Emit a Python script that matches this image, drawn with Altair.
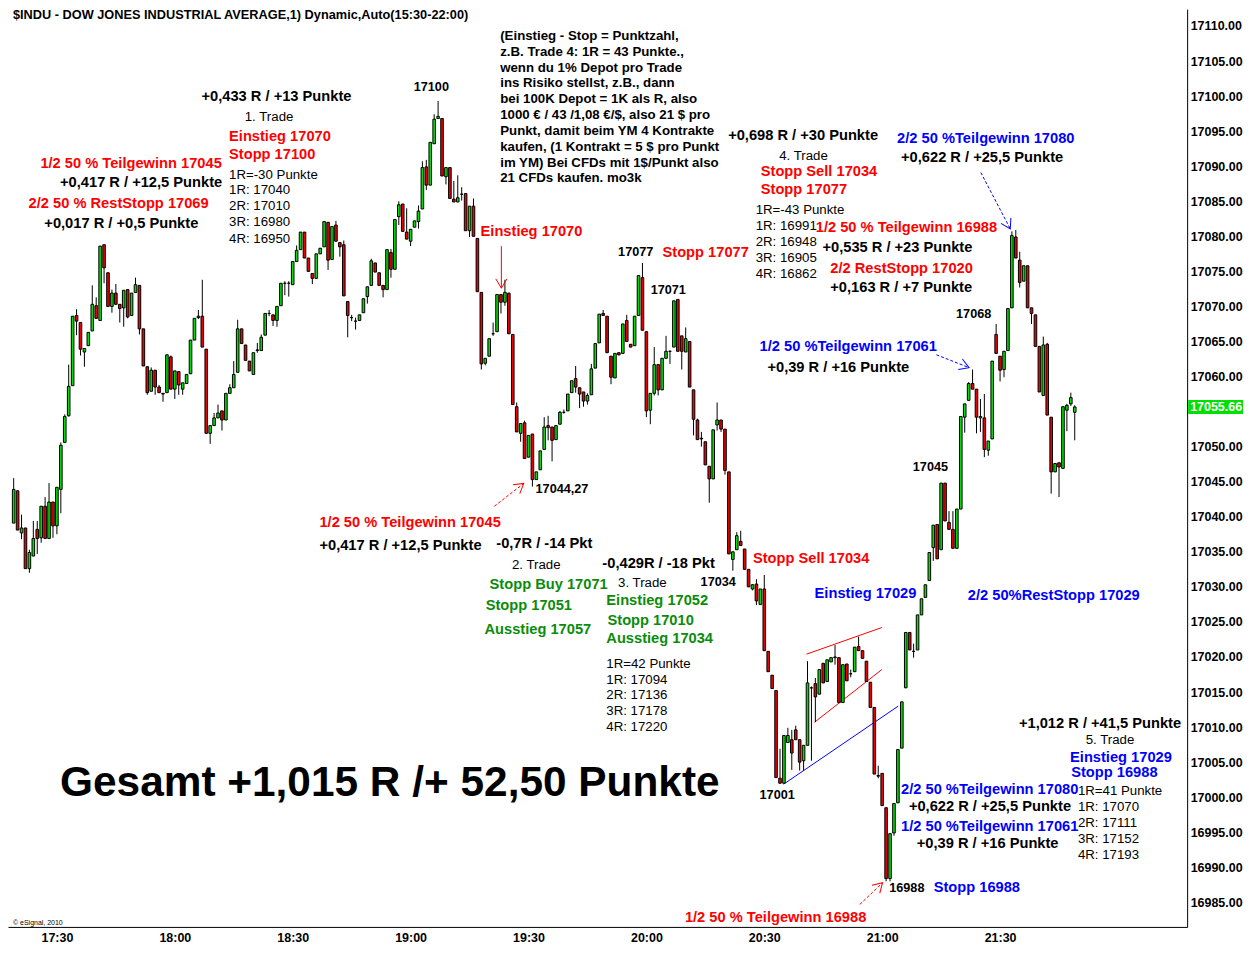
import altair as alt
import pandas as pd

FONT = "Liberation Sans"
RED = "#FF0000"
BLUE = "#0000FF"
GREEN = "#0A8C0A"
BLACK = "#000000"

# ---- 1-minute bars, first bar 17:19 ----
opens = [17039.1, 17043.7, 17037.7, 17038.4, 17032.6, 17034.4, 17038.2, 17037.0, 17041.5, 17036.9,
         17042.1, 17038.7, 17043.9, 17050.6, 17054.4, 17058.7, 17068.7, 17067.7, 17063.5, 17064.4,
         17066.5, 17070.1, 17068.0, 17078.8, 17074.8, 17070.0, 17071.9, 17070.3, 17069.8, 17072.4,
         17068.7, 17072.0, 17073.0, 17066.8, 17061.4, 17057.9, 17060.9, 17058.5, 17057.6, 17057.7,
         17062.8, 17058.2, 17060.7, 17058.2, 17059.0, 17060.4, 17065.2, 17068.4, 17068.6, 17063.9,
         17051.9, 17053.0, 17054.1, 17055.1, 17053.8, 17057.6, 17058.4, 17060.6, 17066.8, 17064.5,
         17062.2, 17060.3, 17063.7, 17063.7, 17065.9, 17069.0, 17068.8, 17068.0, 17070.1, 17073.3,
         17073.3, 17073.1, 17076.4, 17078.1, 17080.6, 17076.9, 17074.7, 17074.0, 17077.5, 17078.5,
         17082.0, 17076.7, 17081.6, 17079.1, 17078.8, 17070.7, 17068.4, 17067.9, 17068.0, 17069.1,
         17071.4, 17073.0, 17076.2, 17074.8, 17073.0, 17072.4, 17077.7, 17075.3, 17082.8, 17084.6,
         17080.6, 17079.3, 17081.3, 17082.1, 17083.9, 17089.9, 17087.3, 17093.2, 17096.8, 17096.8,
         17088.5, 17089.8, 17085.3, 17084.9, 17086.0, 17086.1, 17080.8, 17084.3, 17079.7, 17072.0,
         17061.9, 17062.9, 17066.1, 17066.4, 17071.7, 17070.6, 17071.9, 17066.0, 17055.7, 17051.9,
         17053.4, 17048.5, 17051.8, 17045.3, 17046.7, 17049.6, 17053.0, 17052.8, 17051.0, 17053.2,
         17054.9, 17055.1, 17057.7, 17059.7, 17058.4, 17057.8, 17056.5, 17057.4, 17061.2, 17064.8,
         17069.0, 17068.6, 17062.9, 17059.8, 17063.4, 17063.3, 17068.0, 17064.6, 17064.4, 17068.7,
         17074.1, 17066.4, 17055.2, 17057.6, 17061.7, 17058.1, 17062.6, 17063.6, 17064.2, 17071.0,
         17065.8, 17063.5, 17065.0, 17058.1, 17053.8, 17051.1, 17050.7, 17047.2, 17045.4, 17053.1,
         17053.8, 17052.5, 17046.4, 17033.9, 17035.3, 17036.5, 17035.4, 17032.5, 17029.7, 17030.4,
         17027.5, 17029.7, 17020.8, 17017.4, 17015.2, 17002.7, 17002.0, 17007.8, 17008.2, 17009.6,
         17008.2, 17005.2, 17007.4, 17015.6, 17016.2, 17014.7, 17019.1, 17016.5, 17019.3, 17019.9,
         17019.9, 17013.5, 17019.0, 17017.6, 17017.9, 17021.5, 17020.9, 17019.4, 17016.4, 17012.8,
         17003.1, 17003.4, 16998.5, 16988.4, 16994.9, 16999.2, 17007.0, 17015.6, 17023.5, 17020.8,
         17021.0, 17026.0, 17028.5, 17030.9, 17035.6, 17038.9, 17035.3, 17044.8, 17039.2, 17038.2,
         17035.5, 17041.1, 17054.2, 17056.6, 17059.0, 17058.2, 17054.1, 17054.1, 17049.5, 17051.1,
         17066.0, 17062.9, 17061.0, 17063.7, 17069.8, 17079.9, 17076.6, 17073.6, 17075.8, 17069.8,
         17068.8, 17064.3, 17057.3, 17064.6, 17054.2, 17046.4, 17047.7, 17046.9, 17055.2, 17056.1,
         17054.9]
highs = [17045.5, 17043.7, 17040.3, 17038.4, 17035.3, 17039.4, 17039.4, 17041.5, 17042.8, 17044.8,
         17042.1, 17044.2, 17050.6, 17054.6, 17061.7, 17068.6, 17069.6, 17067.7, 17064.0, 17066.3,
         17073.0, 17071.3, 17078.6, 17078.8, 17074.8, 17072.4, 17073.2, 17070.3, 17072.3, 17072.4,
         17071.9, 17074.1, 17073.0, 17066.8, 17061.4, 17061.3, 17060.9, 17058.8, 17057.6, 17063.1,
         17063.0, 17060.8, 17060.7, 17059.1, 17060.3, 17065.2, 17068.3, 17069.5, 17073.8, 17063.9,
         17053.0, 17054.8, 17056.0, 17055.1, 17057.6, 17058.9, 17062.2, 17068.1, 17066.8, 17064.5,
         17062.2, 17063.4, 17064.8, 17066.0, 17069.0, 17069.5, 17068.8, 17070.0, 17073.3, 17073.6,
         17073.6, 17076.4, 17078.7, 17080.6, 17080.6, 17076.9, 17074.7, 17077.5, 17078.3, 17082.1,
         17082.0, 17081.4, 17082.2, 17079.1, 17079.4, 17070.7, 17068.8, 17068.4, 17068.8, 17071.1,
         17072.8, 17076.8, 17076.2, 17074.8, 17073.0, 17078.1, 17078.2, 17082.4, 17085.0, 17084.6,
         17084.0, 17081.0, 17082.2, 17084.4, 17090.7, 17090.9, 17093.4, 17097.4, 17099.3, 17096.8,
         17089.8, 17089.8, 17087.9, 17088.7, 17087.0, 17086.1, 17084.3, 17085.4, 17079.7, 17072.0,
         17062.6, 17065.4, 17067.7, 17071.7, 17071.7, 17073.8, 17071.9, 17066.0, 17056.3, 17053.3,
         17053.7, 17051.6, 17051.8, 17046.4, 17049.4, 17054.2, 17054.4, 17052.8, 17053.0, 17055.1,
         17055.3, 17057.5, 17059.4, 17061.5, 17058.4, 17057.8, 17057.6, 17061.8, 17064.7, 17068.9,
         17069.5, 17068.6, 17062.9, 17063.3, 17063.4, 17067.5, 17068.8, 17064.6, 17068.6, 17074.4,
         17076.2, 17066.4, 17057.6, 17064.2, 17061.7, 17062.6, 17065.8, 17063.7, 17070.8, 17071.0,
         17065.8, 17067.0, 17065.0, 17058.1, 17054.0, 17052.1, 17050.7, 17047.2, 17052.4, 17056.3,
         17053.8, 17052.5, 17046.4, 17035.0, 17037.8, 17038.0, 17035.4, 17032.5, 17030.4, 17031.1,
         17029.7, 17031.7, 17020.8, 17017.4, 17015.2, 17006.9, 17008.8, 17009.9, 17009.6, 17010.2,
         17008.2, 17007.4, 17019.4, 17015.8, 17017.0, 17018.2, 17019.1, 17019.6, 17019.9, 17021.7,
         17019.9, 17018.9, 17019.0, 17018.2, 17021.4, 17022.9, 17020.9, 17019.4, 17016.4, 17012.8,
         17004.5, 17003.4, 16998.5, 16994.8, 16999.1, 17006.8, 17013.6, 17023.5, 17023.5, 17021.9,
         17026.0, 17028.3, 17030.3, 17034.9, 17038.8, 17038.9, 17044.8, 17044.8, 17040.8, 17040.8,
         17041.1, 17054.3, 17056.1, 17059.2, 17061.0, 17058.2, 17056.8, 17057.5, 17050.8, 17062.2,
         17067.5, 17062.9, 17063.6, 17069.7, 17080.7, 17080.9, 17077.8, 17075.8, 17075.8, 17069.8,
         17068.8, 17064.3, 17065.7, 17064.8, 17054.2, 17047.6, 17047.7, 17055.7, 17056.1, 17057.7,
         17055.9]
lows = [17039.1, 17038.1, 17036.8, 17032.6, 17032.0, 17034.4, 17034.7, 17036.3, 17036.9, 17036.9,
        17037.0, 17037.5, 17040.5, 17050.6, 17054.3, 17058.7, 17065.9, 17063.0, 17061.4, 17064.4,
        17066.5, 17068.3, 17068.0, 17073.3, 17070.0, 17069.1, 17070.3, 17067.7, 17067.1, 17068.3,
        17068.7, 17072.0, 17066.0, 17061.5, 17057.4, 17057.9, 17057.4, 17057.7, 17056.4, 17057.7,
        17058.2, 17056.8, 17057.4, 17057.4, 17059.0, 17060.4, 17065.2, 17068.2, 17064.2, 17051.9,
        17050.4, 17053.0, 17054.1, 17052.3, 17053.8, 17057.6, 17058.4, 17060.6, 17064.7, 17062.3,
        17060.8, 17060.3, 17063.4, 17063.7, 17065.9, 17068.6, 17067.2, 17067.1, 17070.1, 17071.6,
        17071.4, 17073.1, 17076.4, 17078.1, 17076.9, 17075.0, 17073.2, 17074.0, 17077.5, 17078.5,
        17075.2, 17076.7, 17079.3, 17077.1, 17071.5, 17065.6, 17067.9, 17066.7, 17068.0, 17069.1,
        17070.4, 17073.0, 17074.9, 17073.0, 17071.3, 17072.4, 17074.1, 17075.3, 17081.6, 17080.7,
        17079.6, 17078.6, 17081.3, 17081.1, 17083.9, 17086.6, 17087.3, 17093.2, 17096.8, 17088.6,
        17087.4, 17085.4, 17084.9, 17084.9, 17085.1, 17080.8, 17079.9, 17080.0, 17072.1, 17061.0,
        17061.6, 17062.9, 17065.8, 17066.4, 17069.0, 17070.1, 17066.1, 17056.0, 17052.1, 17050.7,
        17048.3, 17048.5, 17044.3, 17045.3, 17046.7, 17049.6, 17050.9, 17047.9, 17051.0, 17053.2,
        17054.7, 17055.1, 17057.7, 17057.7, 17055.5, 17055.7, 17056.0, 17057.4, 17061.2, 17064.8,
        17068.7, 17063.4, 17058.9, 17059.8, 17063.0, 17063.3, 17065.0, 17064.2, 17064.4, 17068.7,
        17066.6, 17054.2, 17053.2, 17057.3, 17057.3, 17058.1, 17062.6, 17061.8, 17064.2, 17063.6,
        17061.0, 17063.5, 17058.5, 17051.6, 17051.0, 17050.0, 17047.4, 17042.0, 17045.4, 17052.3,
        17052.1, 17046.0, 17034.7, 17032.3, 17035.3, 17035.9, 17032.5, 17030.0, 17029.5, 17027.4,
        17027.4, 17020.9, 17017.9, 17015.5, 17002.8, 17001.9, 17001.9, 17007.8, 17003.9, 17008.2,
        17003.8, 17003.8, 17007.4, 17005.2, 17010.7, 17014.7, 17016.3, 17016.5, 17019.3, 17018.9,
        17013.5, 17013.5, 17016.6, 17017.1, 17017.9, 17020.9, 17019.8, 17016.5, 17012.8, 17003.3,
        17002.7, 16998.8, 16988.0, 16988.0, 16994.5, 16999.2, 17007.0, 17015.6, 17021.0, 17019.9,
        17021.0, 17026.0, 17028.5, 17030.9, 17033.7, 17034.0, 17035.3, 17039.4, 17038.2, 17035.5,
        17035.5, 17041.1, 17052.0, 17056.6, 17058.2, 17051.9, 17052.1, 17048.5, 17048.7, 17051.1,
        17063.3, 17059.3, 17059.9, 17063.7, 17069.8, 17076.9, 17072.7, 17073.6, 17069.8, 17067.5,
        17064.3, 17057.8, 17057.3, 17054.5, 17043.3, 17046.4, 17042.8, 17046.9, 17052.2, 17055.8,
        17050.9]
closes = [17043.9, 17038.1, 17038.4, 17032.6, 17034.9, 17036.9, 17036.9, 17041.5, 17036.9, 17042.1,
          17038.7, 17044.2, 17050.2, 17054.3, 17058.6, 17068.6, 17067.9, 17063.9, 17064.0, 17066.3,
          17070.3, 17068.3, 17078.6, 17075.5, 17070.0, 17071.9, 17070.3, 17069.7, 17072.3, 17068.5,
          17071.9, 17073.1, 17066.8, 17061.5, 17057.7, 17060.9, 17058.5, 17057.7, 17057.5, 17063.1,
          17058.2, 17060.8, 17058.8, 17059.1, 17060.3, 17065.2, 17068.3, 17068.6, 17064.2, 17051.9,
          17053.0, 17054.1, 17054.8, 17053.8, 17057.6, 17058.4, 17060.3, 17066.8, 17064.7, 17062.3,
          17060.8, 17063.4, 17063.8, 17065.6, 17069.0, 17069.0, 17068.0, 17070.0, 17073.3, 17073.3,
          17073.3, 17076.4, 17078.0, 17080.6, 17076.9, 17075.0, 17074.0, 17077.5, 17078.3, 17082.1,
          17076.6, 17081.4, 17079.3, 17078.5, 17071.5, 17068.7, 17068.4, 17067.9, 17068.8, 17071.1,
          17072.8, 17076.5, 17074.9, 17073.0, 17072.4, 17078.1, 17075.3, 17082.4, 17084.5, 17080.7,
          17079.6, 17081.0, 17082.2, 17083.6, 17089.8, 17087.3, 17093.4, 17096.7, 17097.1, 17088.6,
          17089.8, 17085.4, 17084.9, 17085.5, 17086.0, 17080.8, 17084.3, 17080.0, 17072.1, 17061.8,
          17062.6, 17065.4, 17066.1, 17071.7, 17070.6, 17072.0, 17066.1, 17056.0, 17052.1, 17053.3,
          17048.3, 17051.6, 17045.3, 17046.4, 17049.4, 17052.8, 17052.7, 17050.9, 17053.0, 17054.9,
          17054.9, 17057.5, 17059.4, 17058.5, 17057.5, 17056.5, 17057.3, 17061.1, 17064.7, 17068.9,
          17068.7, 17063.4, 17059.9, 17063.3, 17063.1, 17067.5, 17065.0, 17064.2, 17068.6, 17074.4,
          17066.6, 17055.1, 17057.6, 17061.7, 17058.1, 17062.6, 17063.6, 17063.6, 17070.8, 17063.6,
          17063.6, 17065.4, 17058.5, 17053.9, 17051.0, 17051.2, 17047.4, 17045.4, 17052.4, 17053.8,
          17052.5, 17046.6, 17034.7, 17035.0, 17037.3, 17035.9, 17032.5, 17030.0, 17030.3, 17028.0,
          17029.7, 17020.9, 17017.9, 17015.5, 17002.8, 17002.0, 17008.8, 17008.8, 17006.3, 17008.2,
          17005.0, 17007.4, 17016.3, 17015.6, 17014.3, 17018.2, 17016.3, 17019.6, 17019.9, 17020.0,
          17013.5, 17018.9, 17016.6, 17017.6, 17021.4, 17020.9, 17019.8, 17016.5, 17012.8, 17003.3,
          17003.0, 16998.8, 16988.4, 16994.8, 16999.1, 17006.8, 17013.6, 17023.5, 17021.0, 17020.8,
          17026.0, 17028.3, 17030.3, 17034.9, 17038.8, 17034.0, 17044.8, 17039.4, 17038.2, 17035.5,
          17041.1, 17054.3, 17056.1, 17059.0, 17058.2, 17054.2, 17054.3, 17049.6, 17050.8, 17062.2,
          17063.3, 17060.9, 17063.6, 17069.7, 17080.1, 17076.9, 17073.4, 17075.8, 17069.8, 17069.0,
          17064.3, 17057.8, 17064.5, 17054.5, 17046.4, 17047.6, 17047.1, 17055.7, 17055.9, 17057.0,
          17055.66]

# axis ticks (17055.00 sits under the last-price tag)
y_ticks = [16985, 16990, 16995, 17000, 17005, 17010, 17015, 17020, 17025, 17030, 17035, 17040, 17045,
           17050, 17060, 17065, 17070, 17075, 17080, 17085, 17090, 17095, 17100, 17105, 17110]
x_tick_pos = [11, 41, 71, 101, 131, 161, 191, 221, 251]
x_tick_labels = ["17:30", "18:00", "18:30", "19:00", "19:30", "20:00", "20:30", "21:00", "21:30"]

# annotations: (text, bar index, price, colour)
bold_notes = [
    ("+0,433 R / +13 Punkte", 47.8, 17099.83, BLACK),
    ("Einstieg 17070", 54.8, 17094.18, RED),
    ("Stopp 17100", 54.8, 17091.64, RED),
    ("1/2 50 % Teilgewinn 17045", 6.8, 17090.37, RED),
    ("+0,417 R / +12,5 Punkte", 11.8, 17087.54, BLACK),
    ("2/2 50 % RestStopp 17069", 3.8, 17084.58, RED),
    ("+0,017 R / +0,5 Punkte", 7.8, 17081.75, BLACK),
    ("Einstieg 17070", 118.8, 17080.62, RED),
    ("Stopp 17077", 165.1, 17077.66, RED),
    ("+0,698 R / +30 Punkte", 181.8, 17094.32, BLACK),
    ("Stopp Sell 17034", 190.1, 17089.10, RED),
    ("Stopp 17077", 190.1, 17086.55, RED),
    ("1/2 50 % Teilgewinn 16988", 204.1, 17081.19, RED),
    ("+0,535 R / +23 Punkte", 205.8, 17078.36, BLACK),
    ("2/2 RestStopp 17020", 207.8, 17075.40, RED),
    ("+0,163 R / +7 Punkte", 207.8, 17072.57, BLACK),
    ("2/2 50 %Teilgewinn 17080", 224.8, 17093.90, BLUE),
    ("+0,622 R / +25,5 Punkte", 225.8, 17091.21, BLACK),
    ("1/2 50 %Teilgewinn 17061", 189.8, 17064.24, BLUE),
    ("+0,39 R / +16 Punkte", 191.8, 17061.27, BLACK),
    ("1/2 50 % Teilgewinn 17045", 77.8, 17039.10, RED),
    ("+0,417 R / +12,5 Punkte", 77.8, 17035.85, BLACK),
    ("-0,7R / -14 Pkt", 122.8, 17036.13, BLACK),
    ("Stopp Buy 17071", 121.1, 17030.20, GREEN),
    ("Stopp 17051", 120.1, 17027.23, GREEN),
    ("Ausstieg 17057", 119.8, 17023.84, GREEN),
    ("-0,429R / -18 Pkt", 149.8, 17033.31, BLACK),
    ("Einstieg 17052", 150.8, 17027.94, GREEN),
    ("Stopp 17010", 151.1, 17025.11, GREEN),
    ("Ausstieg 17034", 150.8, 17022.57, GREEN),
    ("Stopp Sell 17034", 188.1, 17034.01, RED),
    ("Einstieg 17029", 203.8, 17028.93, BLUE),
    ("2/2 50%RestStopp 17029", 242.8, 17028.64, BLUE),
    ("+1,012 R / +41,5 Punkte", 255.8, 17010.42, BLACK),
    ("Einstieg 17029", 268.8, 17005.62, BLUE),
    ("Stopp 16988", 269.1, 17003.50, BLUE),
    ("2/2 50 %Teilgewinn 17080", 225.8, 17000.96, BLUE),
    ("+0,622 R / +25,5 Punkte", 227.8, 16998.56, BLACK),
    ("1/2 50 %Teilgewinn 17061", 225.8, 16995.73, BLUE),
    ("+0,39 R / +16 Punkte", 229.8, 16993.33, BLACK),
    ("Stopp 16988", 234.1, 16986.98, BLUE),
    ("1/2 50 % Teilgewinn 16988", 170.8, 16982.74, RED),
]
price_notes = [
    ("17100", 101.8, 17101.24), ("17077", 153.8, 17077.80), ("17071", 162.1, 17072.29),
    ("17068", 239.8, 17068.90), ("17045", 228.8, 17047.15), ("17044,27", 132.8, 17043.90),
    ("17034", 174.8, 17030.76), ("17001", 189.8, 17000.25), ("16988", 222.8, 16986.98),
]
plain_notes = [
    ("1. Trade", 58.8, 17097.01), ("1R=-30 Punkte", 54.8, 17088.81), ("1R: 17040", 54.8, 17086.55),
    ("2R: 17010", 54.8, 17084.29), ("3R: 16980", 54.8, 17082.03), ("4R: 16950", 54.8, 17079.63),
    ("4. Trade", 194.8, 17091.50), ("1R=-43 Punkte", 188.8, 17083.73), ("1R: 16991", 188.8, 17081.47),
    ("2R: 16948", 188.8, 17079.21), ("3R: 16905", 188.8, 17076.95), ("4R: 16862", 188.8, 17074.69),
    ("2. Trade", 126.8, 17033.16), ("3. Trade", 153.8, 17030.62),
    ("1R=42 Punkte", 150.8, 17019.04), ("1R: 17094", 150.8, 17016.78), ("2R: 17136", 150.8, 17014.52),
    ("3R: 17178", 150.8, 17012.26), ("4R: 17220", 150.8, 17010.00),
    ("5. Trade", 272.8, 17008.16), ("1R=41 Punkte", 270.8, 17000.82), ("1R: 17070", 270.8, 16998.56),
    ("2R: 17111", 270.8, 16996.30), ("3R: 17152", 270.8, 16994.04), ("4R: 17193", 270.8, 16991.78),
]
para_lines = ["(Einstieg - Stop = Punktzahl,", "z.B. Trade 4: 1R = 43 Punkte.,", "wenn du 1% Depot pro Trade",
              "ins Risiko stellst, z.B., dann", "bei 100K Depot = 1K als R, also",
              "1000 € / 43 /1,08 €/$, also 21 $ pro", "Punkt, damit beim YM 4 Kontrakte",
              "kaufen, (1 Kontrakt = 5 $ pro Punkt", "im YM) Bei CFDs mit 1$/Punkt also", "21 CFDs kaufen. mo3k"]
para_prices = [17108.59, 17106.33, 17104.07, 17101.81, 17099.55, 17097.29, 17095.03, 17092.77, 17090.51, 17088.25]
title_text = "$INDU - DOW JONES INDUSTRIAL AVERAGE,1) Dynamic,Auto(15:30-22:00)"
total_text = "Gesamt +1,015 R /+ 52,50 Punkte"

trend_lines = [(201.75, 17020.4, 220.9, 17024.2, RED), (203.8, 17010.7, 220.9, 17018.2, RED),
               (195.9, 17001.85, 225.1, 17013.0, BLUE)]
arrows_solid = [(124.1, 17078.6, 124.1, 17072.6, RED, 0)]
arrows_dash = [(122.3, 17041.5, 129.8, 17044.75, RED, 232.5), (215.3, 16984.7, 221.1, 16987.8, RED, 226),
               (246.1, 17089.1, 253.6, 17081.05, BLUE, 332), (234.8, 17063.1, 243.1, 17061.27, BLUE, 291.5)]

# ---------- chart ----------
bars = pd.DataFrame({"t": list(range(len(opens))), "open": opens, "high": highs, "low": lows, "close": closes})
bars["col"] = ["#00E000" if c >= o else "#EE0000" for o, c in zip(opens, closes)]

xs = alt.Scale(domain=[-0.175, 297.33], nice=False, zero=False)
ys = alt.Scale(domain=[16981.5, 17112.4], nice=False, zero=False)

label_expr = "[" + ",".join("'%s'" % s for s in x_tick_labels) + "][indexof([" + \
    ",".join(str(v) for v in x_tick_pos) + "], datum.value)]"
XA = alt.Axis(values=x_tick_pos, labelExpr=label_expr, grid=False, ticks=False, domainColor="black",
              domainWidth=1, labelFont=FONT, labelFontSize=12.5, labelFontWeight="bold", labelColor="black",
              labelPadding=5, title=None, labelAngle=0)
YA = alt.Axis(orient="right", values=y_ticks, format=".2f", grid=False, ticks=False, domainColor="black",
              domainWidth=1, labelFont=FONT, labelFontSize=12.5, labelFontWeight="bold", labelColor="black",
              labelPadding=3, title=None)


def X(f):
    return alt.X(f, type="quantitative", scale=xs, axis=XA)


def Y(f):
    return alt.Y(f, type="quantitative", scale=ys, axis=YA)


wicks = alt.Chart(bars).mark_rule(color="black", strokeWidth=1).encode(x=X("t"), y=Y("low"), y2="high")
bodies = alt.Chart(bars).mark_bar(size=2.6, stroke="black", strokeWidth=1).encode(
    x=X("t"), y=Y("open"), y2="close", color=alt.Color("col:N", scale=None))

tl = pd.DataFrame(trend_lines, columns=["t", "p", "t2", "p2", "color"])
trend = alt.Chart(tl).mark_rule(strokeWidth=1).encode(
    x=X("t"), x2="t2", y=Y("p"), y2="p2", color=alt.Color("color:N", scale=None))

arr_s = pd.DataFrame(arrows_solid, columns=["t", "p", "t2", "p2", "color", "ang"])
arr_d = pd.DataFrame(arrows_dash, columns=["t", "p", "t2", "p2", "color", "ang"])
arr_all = pd.concat([arr_s, arr_d])
a_line_s = alt.Chart(arr_s).mark_rule(strokeWidth=1).encode(
    x=X("t"), x2="t2", y=Y("p"), y2="p2", color=alt.Color("color:N", scale=None))
a_line_d = alt.Chart(arr_d).mark_rule(strokeWidth=1, strokeDash=[3, 2]).encode(
    x=X("t"), x2="t2", y=Y("p"), y2="p2", color=alt.Color("color:N", scale=None))
a_head = alt.Chart(arr_all).mark_point(shape="M -0.6 -1 L 0 0 L 0.6 -1", filled=False, size=350,
                                       strokeWidth=1, opacity=1).encode(
    x=X("t2"), y=Y("p2"), angle=alt.Angle("ang:Q", scale=None), color=alt.Color("color:N", scale=None))


def text_layer(rows, size, weight, baseline="middle"):
    df = pd.DataFrame(rows, columns=["text", "t", "p", "color"])
    return alt.Chart(df).mark_text(font=FONT, fontSize=size, fontWeight=weight, align="left",
                                   baseline=baseline).encode(
        x=X("t"), y=Y("p"), text="text:N", color=alt.Color("color:N", scale=None))


t_bold = text_layer(bold_notes, 14.7, "bold")
t_price = text_layer([(a, b, c, BLACK) for a, b, c in price_notes], 12.7, "bold")
t_plain = text_layer([(a, b, c, BLACK) for a, b, c in plain_notes], 13.3, "normal")
t_para = text_layer([(s, 123.8, p, BLACK) for s, p in zip(para_lines, para_prices)], 13.3, "bold")
t_title = text_layer([(title_text, -0.175, 17112.4, BLACK)], 12.8, "bold", baseline="top")
t_total = text_layer([(total_text, 11.8, 17002.09, BLACK)], 42.5, "bold")
t_copy = text_layer([("© eSignal, 2010", -0.175, 16981.6, BLACK)], 7, "normal", baseline="bottom")

last = closes[-1]
tag = pd.DataFrame({"p": [last], "lo": [last - 1.0], "hi": [last + 1.0], "label": ["%.2f" % last]})
tag_box = alt.Chart(tag).mark_rect(color="#00E000").encode(
    x=alt.value(1183), x2=alt.value(1238), y=Y("lo"), y2="hi")
tag_txt = alt.Chart(tag).mark_text(font=FONT, fontSize=12.5, fontWeight="bold", color="white",
                                   align="left", baseline="middle").encode(
    x=alt.value(1185), y=Y("p"), text="label:N")

chart = alt.layer(
    trend, wicks, bodies, a_line_s, a_line_d, a_head,
    t_title, t_bold, t_price, t_plain, t_para, t_total, t_copy, tag_box, tag_txt
).properties(
    width=1182, height=920,
    padding={"left": 0, "top": 0, "right": 56, "bottom": 22},
    autosize=alt.AutoSizeParams(type="none"),
    background="white",
).configure_view(stroke=None)

chart.save("out.html", embed_options={"renderer": "svg", "actions": False})
